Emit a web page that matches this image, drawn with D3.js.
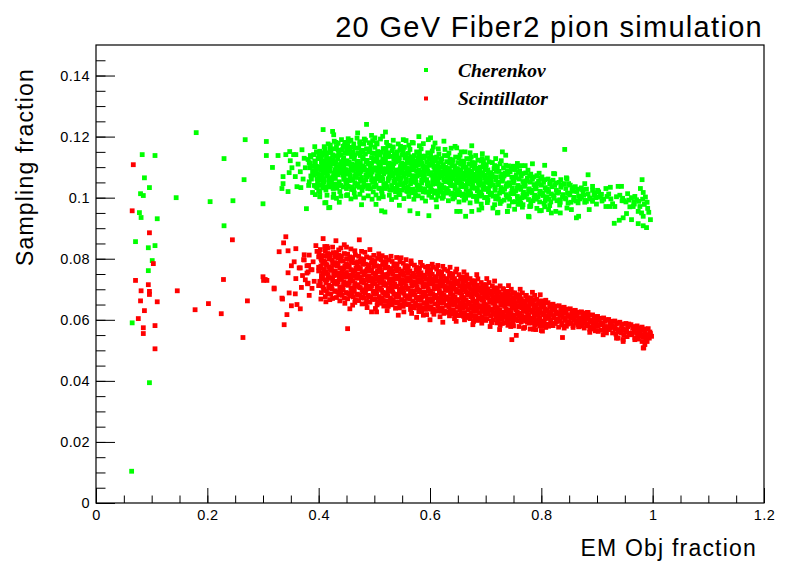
<!DOCTYPE html>
<html>
<head>
<meta charset="utf-8">
<script src="https://cdn.jsdelivr.net/npm/d3@7"></script>
<style>
  body { margin: 0; background: #fff; }
  svg { display: block; }
  .tick text { font-family: "Liberation Sans", Arial, sans-serif; font-size: 14.5px; fill: #000; letter-spacing: 0.4px; }
</style>
</head>
<body>
<div id="chart"></div>
<script>
// Chart text
const chartTitle = "20 GeV Fiber2 pion simulation"
const xTitle = "EM Obj fraction"
const yTitle = "Sampling fraction"
const seriesNames = ["Cherenkov", "Scintillator"]
const seriesColors = ["#00ff00", "#ff0000"]

// Axis ticks
const xTicks = [0, 0.2, 0.4, 0.6, 0.8, 1, 1.2]
const yTicks = [0, 0.02, 0.04, 0.06, 0.08, 0.1, 0.12, 0.14]

// Cherenkov points [EM fraction, sampling fraction]
const cherenkov = [
  [0.064,0.0104],[0.096,0.0394],[0.065,0.0590],[0.071,0.0856],[0.078,0.0951],[0.080,0.1013],[0.081,0.0935],[0.083,0.1141],[0.085,0.1007],[0.087,0.1065],
  [0.094,0.0836],[0.094,0.0761],[0.096,0.1033],[0.101,0.0794],[0.106,0.1138],[0.106,0.0843],[0.110,0.0931],[0.144,0.1000],[0.180,0.1213],[0.205,0.0987],
  [0.230,0.1128],[0.230,0.0908],[0.246,0.0990],[0.266,0.1059],[0.268,0.1190],[0.300,0.0980],[0.306,0.1184],[0.306,0.1138],[0.317,0.1099],
  [0.334,0.1030],[0.336,0.1046],[0.345,0.1020],[0.327,0.1138],[0.341,0.1141],[0.348,0.1151],[0.370,0.1157],[0.378,0.0964],[0.393,0.1167],[0.408,0.1223],
  [0.336,0.1069],[0.347,0.1082],[0.358,0.1069],[0.367,0.1085],[0.361,0.1036],[0.368,0.1033],[0.349,0.1121],[0.355,0.1141],[0.359,0.1141],[0.385,0.1138],
  [0.383,0.1115],[0.376,0.1098],[0.392,0.1040],[0.400,0.1023],[0.394,0.1010],[0.397,0.1033],[0.403,0.1101],[0.408,0.1147],[0.410,0.1167],[0.412,0.1092],
  [0.413,0.0984],[0.418,0.0967],[0.372,0.1061],[0.363,0.1110],[0.352,0.1098],[0.374,0.1129],
  [0.486,0.1240],[0.425,0.1217],[0.427,0.1206],[0.842,0.1158],[0.694,0.1144],[0.736,0.1139],[0.884,0.1075],[0.513,0.0957],[0.519,0.0953],[0.564,0.0957],
  [0.578,0.0948],[0.598,0.0941],[0.664,0.0939],[0.648,0.0955],[0.654,0.0955],[0.675,0.0955],[0.693,0.0966],[0.713,0.0966],[0.722,0.0952],[0.739,0.0955],
  [0.777,0.0939],[0.797,0.0957],[0.411,0.0983],[0.420,0.0968],[0.477,0.0977],[0.450,0.1007],[0.426,0.1001],[0.495,0.1204],[0.501,0.1196],[0.515,0.1201],
  [0.453,0.1193],[0.444,0.1168],[0.552,0.1190],[0.557,0.1187],[0.597,0.1190],[0.601,0.1196],[0.609,0.1179],[0.570,0.1179],[0.645,0.1168],[0.648,0.1163],
  [0.663,0.1150],[0.696,0.1121],[0.749,0.1103],[0.784,0.1111],[0.806,0.1106],[0.824,0.1078],[0.845,0.1065],[0.981,0.1059],
  [0.764,0.1105],[0.822,0.1079],[0.846,0.1062],[0.849,0.1046],[0.835,0.1059],[0.878,0.1046],[0.892,0.1037],[0.901,0.1024],[0.916,0.1030],[0.924,0.1034],
  [0.938,0.1037],[0.944,0.1037],[0.918,0.1004],[0.955,0.1013],[0.978,0.1030],[0.983,0.1017],[0.987,0.1002],[0.968,0.1004],[0.971,0.0993],[0.948,0.0990],
  [0.952,0.0986],[0.959,0.0970],[0.965,0.0971],[0.977,0.0971],[0.974,0.0955],[0.980,0.0950],[0.983,0.0939],[0.996,0.0928],[0.993,0.0952],[0.974,0.0915],
  [0.983,0.0908],[0.989,0.0902],[0.931,0.0916],[0.940,0.0926],[0.947,0.0934],[0.953,0.0948],[0.962,0.0928],[0.916,0.0971],[0.923,0.0971],[0.932,0.0971],
  [0.899,0.0979],[0.902,0.1002],[0.886,0.0961],[0.863,0.0934],[0.867,0.0939],[0.874,0.1026],[0.872,0.1002],[0.866,0.0983],[0.857,0.1021],[0.851,0.1015],
  [0.844,0.0996],[0.846,0.0966],[0.854,0.0961],[0.833,0.0993],[0.834,0.0950],[0.826,0.0955],[0.887,0.0999],[0.892,0.0988],[0.881,0.0988],[0.896,0.1010],
  [0.778,0.0937],[0.800,0.0958],[0.815,0.0974],[0.818,0.0950],[0.739,0.0955],[0.721,0.0950],[0.779,0.0971],[0.767,0.0977],
  [0.381,0.1125],[0.384,0.1098],[0.386,0.1071],[0.383,0.1052],[0.388,0.1104],[0.387,0.1061],
  [0.391,0.1141],[0.394,0.1116],[0.392,0.1089],[0.397,0.1062],[0.395,0.1037],[0.398,0.1078],[0.393,0.1120],
  [0.402,0.1152],[0.405,0.1127],[0.401,0.1101],[0.407,0.1083],[0.404,0.1058],[0.408,0.1032],[0.406,0.1110],[0.403,0.1069],
  [0.411,0.1160],[0.414,0.1133],[0.417,0.1112],[0.412,0.1094],[0.416,0.1071],[0.419,0.1046],[0.413,0.1025],[0.418,0.1087],
  [0.422,0.1148],[0.425,0.1124],[0.421,0.1105],[0.427,0.1081],[0.424,0.1063],[0.428,0.1040],[0.426,0.1117],[0.429,0.1092],[0.423,0.1055],
  [0.432,0.1166],[0.436,0.1139],[0.431,0.1118],[0.438,0.1097],[0.434,0.1075],[0.437,0.1052],[0.433,0.1031],[0.439,0.1108],
  [0.442,0.1157],[0.445,0.1130],[0.448,0.1113],[0.441,0.1090],[0.446,0.1068],[0.449,0.1046],[0.443,0.1101],[0.447,0.1079],[0.444,0.1124],
  [0.452,0.1171],[0.455,0.1145],[0.451,0.1121],[0.458,0.1098],[0.454,0.1084],[0.457,0.1061],[0.453,0.1037],[0.459,0.1109],[0.456,0.1073],
  [0.461,0.1150],[0.464,0.1127],[0.467,0.1106],[0.462,0.1089],[0.468,0.1066],[0.465,0.1049],[0.463,0.1026],[0.469,0.1115],[0.466,0.1094],
  [0.472,0.1162],[0.475,0.1138],[0.471,0.1119],[0.478,0.1095],[0.474,0.1077],[0.477,0.1055],[0.473,0.1034],[0.479,0.1104],[0.476,0.1086],
  [0.481,0.1176],[0.484,0.1143],[0.487,0.1122],[0.482,0.1101],[0.488,0.1080],[0.485,0.1058],[0.483,0.1040],[0.489,0.1112],[0.486,0.1069],
  [0.492,0.1158],[0.495,0.1131],[0.491,0.1110],[0.498,0.1092],[0.494,0.1073],[0.497,0.1051],[0.493,0.1029],[0.499,0.1119],[0.496,0.1084],
  [0.501,0.1165],[0.504,0.1137],[0.507,0.1116],[0.502,0.1098],[0.508,0.1079],[0.505,0.1062],[0.503,0.1041],[0.509,0.1105],[0.506,0.1087],
  [0.512,0.1149],[0.515,0.1126],[0.511,0.1107],[0.518,0.1088],[0.514,0.1067],[0.517,0.1045],[0.513,0.1022],[0.519,0.1114],[0.516,0.1095],
  [0.521,0.1160],[0.524,0.1134],[0.527,0.1113],[0.522,0.1094],[0.528,0.1075],[0.525,0.1056],[0.523,0.1036],[0.529,0.1101],[0.526,0.1083],
  [0.532,0.1154],[0.535,0.1128],[0.531,0.1109],[0.538,0.1090],[0.534,0.1071],[0.537,0.1049],[0.533,0.1030],[0.539,0.1117],[0.536,0.1080],
  [0.541,0.1143],[0.544,0.1121],[0.547,0.1102],[0.542,0.1085],[0.548,0.1066],[0.545,0.1043],[0.543,0.1024],[0.549,0.1111],[0.546,0.1093],
  [0.552,0.1152],[0.555,0.1130],[0.551,0.1108],[0.558,0.1089],[0.554,0.1070],[0.557,0.1052],[0.553,0.1033],[0.559,0.1097],[0.556,0.1079],
  [0.561,0.1145],[0.564,0.1123],[0.567,0.1104],[0.562,0.1086],[0.568,0.1063],[0.565,0.1046],[0.563,0.1027],[0.569,0.1112],[0.566,0.1094],
  [0.572,0.1138],[0.575,0.1119],[0.571,0.1100],[0.578,0.1081],[0.574,0.1060],[0.577,0.1041],[0.573,0.1020],[0.579,0.1107],[0.576,0.1088],
  [0.581,0.1147],[0.584,0.1125],[0.587,0.1103],[0.582,0.1084],[0.588,0.1066],[0.585,0.1048],[0.583,0.1030],[0.589,0.1095],[0.586,0.1074],
  [0.592,0.1136],[0.595,0.1116],[0.591,0.1097],[0.598,0.1078],[0.594,0.1059],[0.597,0.1039],[0.593,0.1018],[0.599,0.1106],[0.596,0.1087],
  [0.601,0.1142],[0.604,0.1121],[0.607,0.1101],[0.602,0.1082],[0.608,0.1063],[0.605,0.1044],[0.603,0.1025],[0.609,0.1090],[0.606,0.1071],
  [0.612,0.1133],[0.615,0.1112],[0.611,0.1093],[0.618,0.1075],[0.614,0.1056],[0.617,0.1037],[0.613,0.1016],[0.619,0.1100],[0.616,0.1084],
  [0.621,0.1128],[0.624,0.1108],[0.627,0.1089],[0.622,0.1071],[0.628,0.1052],[0.625,0.1033],[0.623,0.1014],[0.629,0.1096],[0.626,0.1079],
  [0.632,0.1137],[0.635,0.1115],[0.631,0.1094],[0.638,0.1076],[0.634,0.1058],[0.637,0.1040],[0.633,0.1021],[0.639,0.1085],[0.636,0.1066],
  [0.641,0.1124],[0.644,0.1104],[0.647,0.1086],[0.642,0.1068],[0.648,0.1049],[0.645,0.1030],[0.643,0.1011],[0.649,0.1093],[0.646,0.1077],
  [0.652,0.1131],[0.655,0.1110],[0.651,0.1090],[0.658,0.1072],[0.654,0.1054],[0.657,0.1036],[0.653,0.1017],[0.659,0.1081],[0.656,0.1062],
  [0.661,0.1119],[0.664,0.1100],[0.667,0.1082],[0.662,0.1064],[0.668,0.1045],[0.665,0.1027],[0.663,0.1008],[0.669,0.1089],[0.666,0.1073],
  [0.672,0.1126],[0.675,0.1105],[0.671,0.1086],[0.678,0.1068],[0.674,0.1050],[0.677,0.1031],[0.673,0.1013],[0.679,0.1077],[0.676,0.1058],
  [0.681,0.1114],[0.684,0.1096],[0.687,0.1078],[0.682,0.1060],[0.688,0.1041],[0.685,0.1023],[0.683,0.1004],[0.689,0.1085],[0.686,0.1069],
  [0.692,0.1120],[0.695,0.1101],[0.691,0.1082],[0.698,0.1064],[0.694,0.1046],[0.697,0.1027],[0.693,0.1009],[0.699,0.1073],
  [0.701,0.1108],[0.704,0.1091],[0.707,0.1074],[0.702,0.1056],[0.708,0.1038],[0.705,0.1020],[0.703,0.1001],[0.709,0.1065],
  [0.712,0.1115],[0.715,0.1095],[0.711,0.1077],[0.718,0.1059],[0.714,0.1042],[0.717,0.1024],[0.713,0.1005],[0.719,0.1068],
  [0.721,0.1102],[0.724,0.1086],[0.727,0.1069],[0.722,0.1051],[0.728,0.1033],[0.725,0.1015],[0.723,0.0996],[0.729,0.1060],
  [0.732,0.1097],[0.735,0.1080],[0.731,0.1063],[0.738,0.1046],[0.734,0.1028],[0.737,0.1010],[0.733,0.0992],
  [0.741,0.1104],[0.744,0.1085],[0.747,0.1067],[0.742,0.1049],[0.748,0.1031],[0.745,0.1013],[0.743,0.0995],
  [0.752,0.1092],[0.755,0.1075],[0.751,0.1057],[0.758,0.1040],[0.754,0.1022],[0.757,0.1004],[0.753,0.0987],
  [0.761,0.1088],[0.764,0.1070],[0.767,0.1053],[0.762,0.1036],[0.768,0.1018],[0.765,0.1000],[0.763,0.0983],
  [0.772,0.1081],[0.775,0.1064],[0.771,0.1046],[0.778,0.1029],[0.774,0.1011],[0.777,0.0994],
  [0.781,0.1077],[0.784,0.1060],[0.787,0.1043],[0.782,0.1025],[0.788,0.1008],[0.785,0.0990],
  [0.792,0.1072],[0.795,0.1055],[0.791,0.1038],[0.798,0.1021],[0.794,0.1003],[0.797,0.0986],
  [0.801,0.1068],[0.804,0.1050],[0.807,0.1033],[0.802,0.1016],[0.808,0.0999],[0.805,0.0981],
  [0.812,0.1061],[0.815,0.1045],[0.811,0.1028],[0.818,0.1012],[0.814,0.0995],
  [0.821,0.1057],[0.824,0.1040],[0.827,0.1024],[0.822,0.1007],[0.828,0.0990],
  [0.832,0.1050],[0.835,0.1034],[0.831,0.1018],[0.838,0.1002],[0.834,0.0985],
  [0.841,0.1046],[0.844,0.1030],[0.847,0.1014],[0.842,0.0998],[0.848,0.0982],
  [0.852,0.1041],[0.855,0.1025],[0.851,0.1009],[0.858,0.0993],
  [0.861,0.1036],[0.864,0.1020],[0.867,0.1005],[0.862,0.0989],
  [0.872,0.1032],[0.875,0.1016],[0.871,0.1001],[0.878,0.0985],
  [0.881,0.1028],[0.884,0.1012],[0.887,0.0997],
  [0.892,0.1024],[0.895,0.1008],[0.891,0.0993],
  [0.903,0.1019],[0.906,0.1004],[0.909,0.0989],
  [0.921,0.1012],[0.925,0.0996],[0.928,0.0980],
  [0.941,0.1008],[0.945,0.0990],[0.962,0.1000],[0.966,0.0985],[0.982,0.0995],[0.985,0.0978],[0.991,0.0965],[0.990,0.0985]
]

// Cherenkov points filling the dense band and its edges
const cherenkovFill = [
  [0.385,0.1112],[0.389,0.1085],[0.382,0.1040],[0.386,0.1133],[0.389,0.1017],
  [0.396,0.1150],[0.399,0.1128],[0.395,0.1103],[0.391,0.1074],[0.398,0.1049],[0.396,0.1092],
  [0.406,0.1140],[0.409,0.1119],[0.404,0.1092],[0.400,0.1075],[0.407,0.1046],[0.409,0.1063],[0.402,0.1017],
  [0.416,0.1147],[0.419,0.1122],[0.415,0.1102],[0.410,0.1079],[0.418,0.1058],[0.413,0.1036],[0.411,0.1108],[0.417,0.1176],
  [0.427,0.1160],[0.429,0.1136],[0.424,0.1111],[0.420,0.1087],[0.428,0.1070],[0.422,0.1048],[0.426,0.1030],[0.421,0.1128],
  [0.437,0.1152],[0.434,0.1127],[0.439,0.1085],[0.430,0.1063],[0.436,0.1041],[0.432,0.1102],[0.438,0.1020],[0.431,0.1181],
  [0.447,0.1145],[0.441,0.1118],[0.448,0.1092],[0.443,0.1074],[0.449,0.1057],[0.444,0.1035],[0.440,0.1110],[0.446,0.1170],
  [0.456,0.1158],[0.459,0.1133],[0.453,0.1110],[0.450,0.1090],[0.457,0.1069],[0.451,0.1049],[0.459,0.1027],[0.454,0.1185],
  [0.466,0.1162],[0.460,0.1139],[0.469,0.1117],[0.463,0.1100],[0.467,0.1078],[0.461,0.1057],[0.468,0.1038],[0.464,0.1015],
  [0.476,0.1150],[0.479,0.1128],[0.473,0.1108],[0.470,0.1087],[0.477,0.1066],[0.471,0.1045],[0.478,0.1024],[0.474,0.1177],
  [0.486,0.1160],[0.480,0.1133],[0.489,0.1113],[0.483,0.1091],[0.487,0.1071],[0.481,0.1049],[0.488,0.1030],[0.484,0.1188],
  [0.496,0.1146],[0.499,0.1123],[0.493,0.1101],[0.490,0.1078],[0.497,0.1062],[0.491,0.1040],[0.498,0.1019],[0.494,0.1172],
  [0.506,0.1151],[0.500,0.1127],[0.509,0.1107],[0.503,0.1090],[0.507,0.1070],[0.501,0.1052],[0.508,0.1031],[0.504,0.1180],
  [0.516,0.1161],[0.519,0.1137],[0.513,0.1116],[0.510,0.1098],[0.517,0.1078],[0.511,0.1056],[0.518,0.1034],[0.514,0.1012],
  [0.526,0.1147],[0.520,0.1123],[0.529,0.1104],[0.523,0.1085],[0.527,0.1066],[0.521,0.1046],[0.528,0.1025],[0.524,0.1171],
  [0.536,0.1141],[0.539,0.1118],[0.533,0.1100],[0.530,0.1081],[0.537,0.1061],[0.531,0.1040],[0.538,0.1019],[0.534,0.1166],
  [0.546,0.1155],[0.540,0.1132],[0.549,0.1113],[0.543,0.1075],[0.547,0.1056],[0.541,0.1034],[0.548,0.1097],[0.544,0.1013],
  [0.556,0.1141],[0.559,0.1119],[0.553,0.1098],[0.550,0.1080],[0.557,0.1061],[0.551,0.1043],[0.558,0.1022],[0.554,0.1165],
  [0.566,0.1134],[0.560,0.1113],[0.569,0.1095],[0.563,0.1075],[0.567,0.1055],[0.561,0.1036],[0.568,0.1016],[0.564,0.1158],
  [0.576,0.1150],[0.579,0.1128],[0.573,0.1110],[0.570,0.1091],[0.577,0.1071],[0.571,0.1051],[0.578,0.1031],[0.574,0.1009],
  [0.586,0.1136],[0.580,0.1114],[0.589,0.1093],[0.583,0.1075],[0.587,0.1057],[0.581,0.1039],[0.588,0.1019],[0.584,0.1160],
  [0.596,0.1147],[0.599,0.1126],[0.593,0.1087],[0.590,0.1068],[0.597,0.1049],[0.591,0.1029],[0.598,0.1008],[0.594,0.1116],
  [0.606,0.1131],[0.600,0.1111],[0.609,0.1092],[0.603,0.1073],[0.607,0.1053],[0.601,0.1035],[0.608,0.1015],[0.604,0.1153],
  [0.616,0.1143],[0.619,0.1122],[0.613,0.1103],[0.610,0.1084],[0.617,0.1065],[0.611,0.1046],[0.618,0.1026],[0.614,0.1005],
  [0.626,0.1138],[0.620,0.1118],[0.629,0.1099],[0.623,0.1080],[0.627,0.1061],[0.621,0.1042],[0.628,0.1023],[0.624,0.1003],
  [0.636,0.1126],[0.639,0.1105],[0.633,0.1085],[0.630,0.1067],[0.637,0.1049],[0.631,0.1030],[0.638,0.1011],[0.634,0.1146],
  [0.646,0.1133],[0.640,0.1114],[0.649,0.1095],[0.643,0.1077],[0.647,0.1058],[0.641,0.1039],[0.648,0.1021],[0.644,0.1001],
  [0.656,0.1120],[0.659,0.1100],[0.653,0.1081],[0.650,0.1063],[0.657,0.1045],[0.651,0.1026],[0.658,0.1007],[0.654,0.1139],
  [0.666,0.1128],[0.660,0.1109],[0.669,0.1091],[0.663,0.1073],[0.667,0.1054],[0.661,0.1036],[0.668,0.1017],[0.664,0.0998],
  [0.676,0.1115],[0.679,0.1096],[0.673,0.1077],[0.670,0.1059],[0.677,0.1040],[0.671,0.1022],[0.678,0.1004],[0.674,0.1133],
  [0.686,0.1123],[0.680,0.1105],[0.689,0.1087],[0.683,0.1069],[0.687,0.1050],[0.681,0.1032],[0.688,0.1013],[0.684,0.0995],
  [0.696,0.1110],[0.699,0.1091],[0.693,0.1073],[0.690,0.1055],[0.697,0.1036],[0.691,0.1018],[0.698,0.1000],[0.694,0.1128],
  [0.706,0.1117],[0.700,0.1099],[0.709,0.1082],[0.703,0.1064],[0.707,0.1047],[0.701,0.1029],[0.708,0.1010],[0.704,0.0992],
  [0.716,0.1105],[0.719,0.1086],[0.713,0.1068],[0.710,0.1050],[0.717,0.1033],[0.711,0.1015],[0.718,0.0996],
  [0.726,0.1111],[0.720,0.1094],[0.729,0.1077],[0.723,0.1042],[0.727,0.1024],[0.721,0.1006],[0.728,0.0988],
  [0.736,0.1106],[0.739,0.1088],[0.733,0.1071],[0.730,0.1054],[0.737,0.1037],[0.731,0.1019],[0.738,0.1001],
  [0.746,0.1095],[0.740,0.1076],[0.749,0.1058],[0.743,0.1040],[0.747,0.1022],[0.741,0.1004],[0.748,0.0986],
  [0.756,0.1100],[0.759,0.1083],[0.753,0.1066],[0.750,0.1048],[0.757,0.1031],[0.751,0.1013],[0.758,0.0995],
  [0.766,0.1079],[0.760,0.1061],[0.769,0.1044],[0.763,0.1027],[0.767,0.1009],[0.761,0.0991],
  [0.776,0.1090],[0.779,0.1072],[0.773,0.1055],[0.770,0.1037],[0.777,0.1020],[0.771,0.1002],
  [0.786,0.1068],[0.780,0.1051],[0.789,0.1034],[0.783,0.1016],[0.787,0.0999],[0.781,0.0981],
  [0.796,0.1080],[0.799,0.1063],[0.793,0.1046],[0.790,0.1029],[0.797,0.1012],[0.791,0.0995],
  [0.806,0.1059],[0.800,0.1041],[0.809,0.1024],[0.803,0.1007],[0.807,0.0990],
  [0.816,0.1053],[0.819,0.1036],[0.813,0.1020],[0.810,0.1003],[0.817,0.0986],
  [0.826,0.1048],[0.829,0.1015],[0.823,0.0998],[0.836,0.1042],[0.839,0.1010],[0.833,0.0976],[0.856,0.1033],[0.859,0.1001],[0.853,0.0985],
  [0.866,0.1028],[0.869,0.0996],[0.876,0.1008],[0.879,0.0991],[0.895,0.1016],[0.898,0.1000],[0.908,0.1011],[0.912,0.0995],
  [0.935,0.1003],[0.946,0.0998],[0.957,0.0992],[0.967,0.0979],[0.975,0.0988],
  [0.421,0.1172],[0.428,0.1185],[0.435,0.1178],[0.441,0.1190],[0.447,0.1181],[0.458,0.1188],[0.463,0.1176],[0.469,0.1195],[0.474,0.1183],[0.482,0.1192],
  [0.491,0.1180],[0.497,0.1187],[0.505,0.1176],[0.511,0.1192],[0.522,0.1181],[0.528,0.1170],[0.534,0.1188],[0.543,0.1176],[0.547,0.1168],[0.562,0.1172],
  [0.568,0.1181],[0.581,0.1170],[0.588,0.1177],[0.606,0.1166],[0.615,0.1160],[0.627,0.1158],[0.638,0.1162],[0.656,0.1150],[0.672,0.1147],[0.682,0.1138],
  [0.703,0.1130],[0.718,0.1128],[0.728,0.1121],[0.757,0.1112],[0.771,0.1105],
  [0.402,0.1003],[0.415,0.1008],[0.427,0.1012],[0.432,0.0998],[0.440,0.1005],[0.452,0.1010],[0.458,0.0996],[0.466,0.1002],[0.474,0.1011],[0.481,0.0999],
  [0.489,0.1006],[0.496,0.0995],[0.503,0.1009],[0.508,0.0998],[0.516,0.1003],[0.527,0.1008],[0.531,0.0994],[0.539,0.1001],[0.546,0.1010],[0.553,0.0997],
  [0.562,0.1004],[0.571,0.0995],[0.579,0.1006],[0.586,0.0999],[0.592,0.0989],[0.603,0.1001],[0.611,0.0993],[0.622,0.0998],[0.633,0.0990],[0.641,0.0996],
  [0.652,0.0986],[0.661,0.0992],[0.672,0.0983],[0.684,0.0988],[0.692,0.0979],[0.703,0.0984],[0.716,0.0977],[0.726,0.0981],[0.742,0.0973],[0.758,0.0978],
  [0.766,0.0969],[0.781,0.0972],[0.792,0.0965],[0.806,0.0970],[0.813,0.0961],
  [0.437,0.0985],[0.503,0.0978],[0.545,0.0975],[0.612,0.0970],[0.688,0.0960],[0.752,0.0962],[0.470,0.1212],[0.520,0.1215],[0.580,0.1200],[0.625,0.1185],
  [0.675,0.1170],[0.730,0.1150]
]

// Cherenkov points in the most crowded part of the band
const cherenkovCore = [
  [0.400,0.1040],[0.405,0.1072],[0.400,0.1096],[0.405,0.1118],[0.400,0.1138],[0.410,0.1052],[0.415,0.1083],[0.410,0.1100],[0.415,0.1125],[0.410,0.1145],
  [0.420,0.1035],[0.425,0.1068],[0.420,0.1097],[0.425,0.1140],[0.420,0.1160],[0.430,0.1045],[0.435,0.1088],[0.430,0.1110],[0.435,0.1155],[0.430,0.1137],
  [0.440,0.1040],[0.445,0.1060],[0.440,0.1082],[0.445,0.1101],[0.440,0.1140],[0.450,0.1030],[0.455,0.1056],[0.450,0.1078],[0.455,0.1116],[0.450,0.1160],
  [0.460,0.1035],[0.465,0.1072],[0.460,0.1110],[0.465,0.1140],[0.460,0.1165],[0.470,0.1040],[0.475,0.1060],[0.470,0.1097],[0.475,0.1113],[0.470,0.1145],
  [0.480,0.1035],[0.485,0.1075],[0.480,0.1095],[0.485,0.1118],[0.480,0.1155],[0.490,0.1034],[0.495,0.1058],[0.490,0.1090],[0.495,0.1112],[0.490,0.1150],
  [0.500,0.1036],[0.505,0.1072],[0.500,0.1095],[0.505,0.1125],[0.500,0.1145],[0.510,0.1030],[0.515,0.1060],[0.510,0.1085],[0.515,0.1118],[0.510,0.1140],
  [0.520,0.1030],[0.525,0.1062],[0.520,0.1090],[0.525,0.1108],[0.520,0.1150],[0.530,0.1025],[0.535,0.1055],[0.530,0.1095],[0.535,0.1112],[0.530,0.1135],
  [0.540,0.1030],[0.545,0.1060],[0.540,0.1090],[0.545,0.1130],[0.540,0.1150],[0.550,0.1025],[0.555,0.1048],[0.550,0.1092],[0.555,0.1110],[0.550,0.1140],
  [0.560,0.1020],[0.565,0.1058],[0.560,0.1082],[0.565,0.1115],[0.560,0.1130],[0.570,0.1028],[0.575,0.1050],[0.570,0.1072],[0.575,0.1105],[0.570,0.1125],
  [0.580,0.1025],[0.585,0.1058],[0.580,0.1090],[0.585,0.1112],[0.580,0.1140],[0.590,0.1020],[0.595,0.1045],[0.590,0.1080],[0.595,0.1100],[0.590,0.1130],
  [0.600,0.1020],[0.605,0.1058],[0.600,0.1078],[0.605,0.1108],[0.600,0.1130],[0.610,0.1022],[0.615,0.1045],[0.610,0.1070],[0.615,0.1095],[0.610,0.1120],
  [0.620,0.1020],[0.625,0.1058],[0.620,0.1085],[0.625,0.1100],[0.620,0.1125],[0.630,0.1015],[0.635,0.1050],[0.630,0.1075],[0.635,0.1095],[0.630,0.1118],
  [0.640,0.1015],[0.645,0.1042],[0.640,0.1062],[0.645,0.1098],[0.640,0.1120],[0.650,0.1010],[0.655,0.1040],[0.650,0.1070],[0.655,0.1090],[0.650,0.1115],
  [0.660,0.1012],[0.665,0.1040],[0.660,0.1060],[0.665,0.1095],[0.660,0.1110],[0.670,0.1008],[0.675,0.1035],[0.670,0.1066],[0.675,0.1085],[0.670,0.1110],
  [0.680,0.1005],[0.685,0.1030],[0.680,0.1055],[0.685,0.1090],[0.680,0.1100],[0.690,0.1005],[0.695,0.1030],[0.690,0.1060],[0.695,0.1080],[0.690,0.1100],
  [0.700,0.1000],[0.705,0.1030],[0.700,0.1050],[0.705,0.1080],[0.700,0.1095]
]

// Scintillator points [EM fraction, sampling fraction]
const scintillator = [
  [0.067,0.1108],[0.065,0.0957],[0.096,0.0885],[0.245,0.0862],[0.103,0.0784],[0.229,0.0732],[0.071,0.0729],[0.094,0.0715],[0.081,0.0695],[0.096,0.0693],
  [0.096,0.0683],[0.146,0.0695],[0.080,0.0662],[0.110,0.0659],[0.087,0.0630],[0.076,0.0604],[0.085,0.0574],[0.085,0.0555],[0.106,0.0581],[0.106,0.0505],
  [0.202,0.0653],[0.178,0.0633],[0.225,0.0620],[0.264,0.0542],[0.272,0.0662],[0.300,0.0741],[0.304,0.0732],[0.307,0.0729],[0.301,0.0729],[0.320,0.0701],
  [0.335,0.0668],
  [0.341,0.0872],[0.337,0.0852],[0.329,0.0823],[0.345,0.0826],[0.359,0.0833],[0.356,0.0790],[0.351,0.0777],[0.345,0.0754],[0.359,0.0735],[0.347,0.0688],
  [0.358,0.0685],[0.351,0.0646],[0.361,0.0650],[0.367,0.0636],[0.343,0.0617],[0.338,0.0584],[0.367,0.0770],[0.374,0.0796],[0.383,0.0812],[0.379,0.0777],
  [0.386,0.0764],[0.381,0.0757],[0.392,0.0726],[0.381,0.0720],[0.388,0.0703],[0.383,0.0680],[0.404,0.0668],[0.413,0.0659],[0.408,0.0866],[0.395,0.0843],
  [0.403,0.0830],[0.415,0.0840],[0.320,0.0704],[0.334,0.0671],[0.380,0.0718],[0.373,0.0797],[0.365,0.0770],[0.374,0.0813],[0.382,0.0778],[0.388,0.0764],
  [0.379,0.0753],[0.397,0.0824],[0.411,0.0840],[0.416,0.0835],[0.431,0.0859],[0.420,0.0666],[0.371,0.0745],[0.376,0.0731],[0.369,0.0706],[0.390,0.0790],
  [0.440,0.0835],[0.450,0.0838],[0.473,0.0862],[0.477,0.0824],[0.499,0.0811],[0.521,0.0804],[0.540,0.0804],[0.597,0.0775],[0.623,0.0775],[0.666,0.0739],
  [0.731,0.0702],[0.749,0.0688],[0.788,0.0680],[0.773,0.0680],[0.808,0.0664],[0.456,0.0636],[0.495,0.0626],[0.504,0.0626],[0.543,0.0615],[0.576,0.0608],
  [0.594,0.0617],[0.452,0.0571],[0.600,0.0600],[0.623,0.0592],[0.647,0.0595],[0.677,0.0584],[0.708,0.0578],[0.725,0.0568],[0.755,0.0549],[0.747,0.0535],
  [0.838,0.0542],[0.911,0.0551],[0.935,0.0540],[0.947,0.0529],[0.983,0.0508],[0.998,0.0546],[0.957,0.0584],[0.884,0.0624],
  [0.820,0.0644],[0.836,0.0628],[0.872,0.0624],[0.882,0.0624],[0.858,0.0617],[0.863,0.0611],[0.869,0.0600],[0.875,0.0592],[0.866,0.0584],[0.890,0.0595],
  [0.899,0.0590],[0.893,0.0573],[0.902,0.0562],[0.887,0.0559],[0.914,0.0570],[0.920,0.0578],[0.926,0.0590],[0.917,0.0557],[0.932,0.0573],[0.938,0.0568],
  [0.944,0.0557],[0.938,0.0540],[0.947,0.0535],[0.957,0.0586],[0.953,0.0562],[0.962,0.0551],[0.968,0.0535],[0.971,0.0573],[0.980,0.0568],[0.986,0.0568],
  [0.983,0.0551],[0.989,0.0540],[0.981,0.0529],[0.986,0.0519],[0.984,0.0508],[0.974,0.0546],[0.977,0.0557],
  [0.401,0.0818],[0.404,0.0801],[0.407,0.0785],[0.402,0.0768],[0.408,0.0752],[0.405,0.0735],[0.403,0.0716],[0.409,0.0698],
  [0.412,0.0826],[0.415,0.0808],[0.411,0.0790],[0.418,0.0773],[0.414,0.0757],[0.417,0.0740],[0.413,0.0722],[0.419,0.0704],[0.416,0.0685],
  [0.421,0.0812],[0.424,0.0796],[0.427,0.0779],[0.422,0.0762],[0.428,0.0745],[0.425,0.0728],[0.423,0.0710],[0.429,0.0693],
  [0.432,0.0820],[0.435,0.0803],[0.431,0.0786],[0.438,0.0769],[0.434,0.0752],[0.437,0.0735],[0.433,0.0717],[0.439,0.0700],[0.436,0.0682],
  [0.441,0.0809],[0.444,0.0792],[0.447,0.0775],[0.442,0.0758],[0.448,0.0741],[0.445,0.0724],[0.443,0.0707],[0.449,0.0689],[0.446,0.0671],
  [0.452,0.0815],[0.455,0.0798],[0.451,0.0781],[0.458,0.0764],[0.454,0.0747],[0.457,0.0730],[0.453,0.0713],[0.459,0.0695],[0.456,0.0678],
  [0.461,0.0804],[0.464,0.0787],[0.467,0.0770],[0.462,0.0753],[0.468,0.0736],[0.465,0.0719],[0.463,0.0702],[0.469,0.0684],[0.466,0.0666],
  [0.472,0.0808],[0.475,0.0791],[0.471,0.0774],[0.478,0.0757],[0.474,0.0741],[0.477,0.0724],[0.473,0.0707],[0.479,0.0690],[0.476,0.0672],
  [0.481,0.0798],[0.484,0.0782],[0.487,0.0765],[0.482,0.0748],[0.488,0.0731],[0.485,0.0714],[0.483,0.0697],[0.489,0.0680],[0.486,0.0662],
  [0.492,0.0803],[0.495,0.0786],[0.491,0.0769],[0.498,0.0752],[0.494,0.0736],[0.497,0.0719],[0.493,0.0702],[0.499,0.0685],[0.496,0.0667],
  [0.501,0.0793],[0.504,0.0777],[0.507,0.0760],[0.502,0.0744],[0.508,0.0727],[0.505,0.0710],[0.503,0.0693],[0.509,0.0676],[0.506,0.0658],
  [0.512,0.0797],[0.515,0.0781],[0.511,0.0764],[0.518,0.0748],[0.514,0.0731],[0.517,0.0714],[0.513,0.0697],[0.519,0.0680],[0.516,0.0663],
  [0.521,0.0788],[0.524,0.0772],[0.527,0.0756],[0.522,0.0739],[0.528,0.0722],[0.525,0.0705],[0.523,0.0688],[0.529,0.0671],[0.526,0.0653],
  [0.532,0.0791],[0.535,0.0775],[0.531,0.0759],[0.538,0.0743],[0.534,0.0726],[0.537,0.0709],[0.533,0.0692],[0.539,0.0675],[0.536,0.0658],
  [0.541,0.0782],[0.544,0.0766],[0.547,0.0750],[0.542,0.0734],[0.548,0.0717],[0.545,0.0700],[0.543,0.0683],[0.549,0.0666],[0.546,0.0648],
  [0.552,0.0785],[0.555,0.0769],[0.551,0.0753],[0.558,0.0737],[0.554,0.0721],[0.557,0.0704],[0.553,0.0687],[0.559,0.0670],[0.556,0.0652],
  [0.561,0.0776],[0.564,0.0760],[0.567,0.0744],[0.562,0.0728],[0.568,0.0712],[0.565,0.0695],[0.563,0.0678],[0.569,0.0661],[0.566,0.0643],
  [0.572,0.0779],[0.575,0.0763],[0.571,0.0747],[0.578,0.0731],[0.574,0.0715],[0.577,0.0699],[0.573,0.0682],[0.579,0.0665],[0.576,0.0647],
  [0.581,0.0770],[0.584,0.0754],[0.587,0.0739],[0.582,0.0723],[0.588,0.0707],[0.585,0.0690],[0.583,0.0673],[0.589,0.0656],[0.586,0.0638],
  [0.592,0.0773],[0.595,0.0757],[0.591,0.0741],[0.598,0.0726],[0.594,0.0710],[0.597,0.0694],[0.593,0.0677],[0.599,0.0660],[0.596,0.0642],
  [0.601,0.0764],[0.604,0.0749],[0.607,0.0733],[0.602,0.0718],[0.608,0.0702],[0.605,0.0686],[0.603,0.0669],[0.609,0.0652],[0.606,0.0634],
  [0.612,0.0766],[0.615,0.0751],[0.611,0.0735],[0.618,0.0720],[0.614,0.0704],[0.617,0.0688],[0.613,0.0672],[0.619,0.0655],[0.616,0.0637],
  [0.621,0.0757],[0.624,0.0742],[0.627,0.0727],[0.622,0.0712],[0.628,0.0696],[0.625,0.0680],[0.623,0.0664],[0.629,0.0647],[0.626,0.0629],
  [0.632,0.0760],[0.635,0.0745],[0.631,0.0730],[0.638,0.0714],[0.634,0.0699],[0.637,0.0683],[0.633,0.0667],[0.639,0.0650],[0.636,0.0632],
  [0.641,0.0750],[0.644,0.0735],[0.647,0.0720],[0.642,0.0705],[0.648,0.0690],[0.645,0.0674],[0.643,0.0658],[0.649,0.0641],[0.646,0.0624],
  [0.652,0.0748],[0.655,0.0733],[0.651,0.0718],[0.658,0.0703],[0.654,0.0688],[0.657,0.0672],[0.653,0.0656],[0.659,0.0640],[0.656,0.0622],
  [0.661,0.0740],[0.664,0.0726],[0.667,0.0711],[0.662,0.0696],[0.668,0.0681],[0.665,0.0665],[0.663,0.0649],[0.669,0.0633],[0.666,0.0616],
  [0.672,0.0735],[0.675,0.0721],[0.671,0.0706],[0.678,0.0691],[0.674,0.0676],[0.677,0.0661],[0.673,0.0645],[0.679,0.0629],[0.676,0.0612],
  [0.681,0.0727],[0.684,0.0713],[0.687,0.0699],[0.682,0.0684],[0.688,0.0669],[0.685,0.0654],[0.683,0.0638],[0.689,0.0622],[0.686,0.0606],
  [0.692,0.0722],[0.695,0.0708],[0.691,0.0694],[0.698,0.0679],[0.694,0.0664],[0.697,0.0649],[0.693,0.0634],[0.699,0.0618],[0.696,0.0602],
  [0.701,0.0715],[0.704,0.0701],[0.707,0.0687],[0.702,0.0673],[0.708,0.0658],[0.705,0.0643],[0.703,0.0628],[0.709,0.0612],
  [0.712,0.0711],[0.715,0.0697],[0.711,0.0683],[0.718,0.0669],[0.714,0.0654],[0.717,0.0639],[0.713,0.0624],[0.719,0.0608],
  [0.721,0.0704],[0.724,0.0690],[0.727,0.0676],[0.722,0.0662],[0.728,0.0648],[0.725,0.0633],[0.723,0.0618],[0.729,0.0603],
  [0.732,0.0700],[0.735,0.0686],[0.731,0.0672],[0.738,0.0658],[0.734,0.0644],[0.737,0.0629],[0.733,0.0614],[0.739,0.0599],
  [0.741,0.0693],[0.744,0.0680],[0.747,0.0666],[0.742,0.0652],[0.748,0.0638],[0.745,0.0624],[0.743,0.0609],[0.749,0.0594],
  [0.752,0.0688],[0.755,0.0675],[0.751,0.0661],[0.758,0.0647],[0.754,0.0633],[0.757,0.0619],[0.753,0.0604],
  [0.761,0.0682],[0.764,0.0669],[0.767,0.0656],[0.762,0.0642],[0.768,0.0628],[0.765,0.0614],[0.763,0.0600],
  [0.772,0.0678],[0.775,0.0665],[0.771,0.0652],[0.778,0.0638],[0.774,0.0624],[0.777,0.0610],[0.773,0.0596],
  [0.781,0.0672],[0.784,0.0659],[0.787,0.0646],[0.782,0.0632],[0.788,0.0619],[0.785,0.0605],[0.783,0.0591],
  [0.792,0.0667],[0.795,0.0654],[0.791,0.0641],[0.798,0.0628],[0.794,0.0614],[0.797,0.0600],[0.793,0.0587],
  [0.801,0.0662],[0.804,0.0649],[0.807,0.0636],[0.802,0.0623],[0.808,0.0610],[0.805,0.0596],[0.803,0.0582],
  [0.812,0.0656],[0.815,0.0644],[0.811,0.0631],[0.818,0.0618],[0.814,0.0605],[0.817,0.0592],[0.813,0.0579],
  [0.821,0.0651],[0.824,0.0639],[0.827,0.0626],[0.822,0.0614],[0.828,0.0601],[0.825,0.0588],
  [0.832,0.0646],[0.835,0.0634],[0.831,0.0622],[0.838,0.0609],[0.834,0.0596],[0.837,0.0583],
  [0.841,0.0641],[0.844,0.0629],[0.847,0.0617],[0.842,0.0605],[0.848,0.0592],[0.845,0.0579],
  [0.852,0.0636],[0.855,0.0624],[0.851,0.0612],[0.858,0.0600],[0.854,0.0588],[0.857,0.0575],
  [0.861,0.0631],[0.864,0.0619],[0.867,0.0607],[0.862,0.0595],[0.868,0.0583],
  [0.872,0.0626],[0.875,0.0614],[0.871,0.0603],[0.878,0.0591],[0.874,0.0579],
  [0.881,0.0621],[0.884,0.0610],[0.887,0.0598],[0.882,0.0587],[0.888,0.0575],
  [0.892,0.0616],[0.895,0.0605],[0.891,0.0594],[0.898,0.0582],[0.894,0.0570],
  [0.901,0.0611],[0.904,0.0600],[0.907,0.0589],[0.902,0.0578],[0.908,0.0566],
  [0.912,0.0606],[0.915,0.0595],[0.911,0.0584],[0.918,0.0573],[0.914,0.0562],
  [0.921,0.0601],[0.924,0.0590],[0.927,0.0579],[0.922,0.0568],[0.928,0.0557],
  [0.932,0.0596],[0.935,0.0586],[0.931,0.0575],[0.938,0.0564],[0.934,0.0553],
  [0.941,0.0592],[0.944,0.0581],[0.947,0.0570],[0.942,0.0560],[0.948,0.0549],
  [0.952,0.0588],[0.955,0.0577],[0.951,0.0566],[0.958,0.0556],[0.954,0.0545],
  [0.961,0.0584],[0.964,0.0573],[0.967,0.0562],[0.962,0.0552],[0.968,0.0541],
  [0.972,0.0580],[0.975,0.0569],[0.971,0.0558],[0.978,0.0548],[0.974,0.0537],
  [0.981,0.0576],[0.984,0.0565],[0.987,0.0554],[0.982,0.0544],[0.988,0.0533],
  [0.992,0.0571],[0.995,0.0560],[0.991,0.0550],[0.994,0.0540],[0.990,0.0529]
]

// Scintillator points filling the dense band and its edges
const scintillatorFill = [
  [0.406,0.0810],[0.409,0.0793],[0.404,0.0776],[0.400,0.0760],[0.407,0.0743],[0.402,0.0726],[0.408,0.0707],[0.405,0.0689],
  [0.416,0.0817],[0.419,0.0799],[0.413,0.0781],[0.410,0.0765],[0.417,0.0748],[0.411,0.0731],[0.418,0.0713],[0.414,0.0695],[0.412,0.0676],
  [0.426,0.0820],[0.420,0.0804],[0.429,0.0787],[0.423,0.0770],[0.427,0.0753],[0.421,0.0736],[0.428,0.0719],[0.424,0.0701],[0.422,0.0684],
  [0.436,0.0811],[0.439,0.0794],[0.433,0.0777],[0.430,0.0760],[0.437,0.0743],[0.431,0.0726],[0.438,0.0708],[0.434,0.0691],[0.432,0.0673],
  [0.446,0.0817],[0.440,0.0800],[0.449,0.0783],[0.443,0.0766],[0.447,0.0749],[0.441,0.0732],[0.448,0.0715],[0.444,0.0698],[0.442,0.0680],
  [0.456,0.0806],[0.459,0.0789],[0.453,0.0772],[0.450,0.0755],[0.457,0.0738],[0.451,0.0721],[0.458,0.0704],[0.454,0.0686],[0.452,0.0669],
  [0.466,0.0812],[0.460,0.0795],[0.469,0.0778],[0.463,0.0761],[0.467,0.0744],[0.461,0.0727],[0.468,0.0710],[0.464,0.0693],[0.462,0.0675],[0.465,0.0657],
  [0.476,0.0800],[0.479,0.0783],[0.473,0.0766],[0.470,0.0749],[0.477,0.0732],[0.471,0.0715],[0.478,0.0698],[0.474,0.0681],[0.472,0.0663],
  [0.486,0.0806],[0.480,0.0790],[0.489,0.0773],[0.483,0.0756],[0.487,0.0739],[0.481,0.0722],[0.488,0.0705],[0.484,0.0688],[0.482,0.0671],[0.485,0.0653],
  [0.496,0.0795],[0.499,0.0778],[0.493,0.0761],[0.490,0.0744],[0.497,0.0727],[0.491,0.0710],[0.498,0.0693],[0.494,0.0676],[0.492,0.0658],
  [0.506,0.0801],[0.500,0.0785],[0.509,0.0768],[0.503,0.0752],[0.507,0.0735],[0.501,0.0718],[0.508,0.0701],[0.504,0.0684],[0.502,0.0667],[0.505,0.0649],
  [0.516,0.0789],[0.519,0.0772],[0.513,0.0756],[0.510,0.0739],[0.517,0.0722],[0.511,0.0705],[0.518,0.0688],[0.514,0.0671],[0.512,0.0654],
  [0.526,0.0796],[0.520,0.0780],[0.529,0.0764],[0.523,0.0747],[0.527,0.0730],[0.521,0.0713],[0.528,0.0696],[0.524,0.0679],[0.522,0.0662],[0.525,0.0644],
  [0.536,0.0783],[0.539,0.0767],[0.533,0.0751],[0.530,0.0734],[0.537,0.0717],[0.531,0.0700],[0.538,0.0683],[0.534,0.0666],[0.532,0.0649],
  [0.546,0.0790],[0.540,0.0774],[0.549,0.0758],[0.543,0.0742],[0.547,0.0725],[0.541,0.0708],[0.548,0.0691],[0.544,0.0674],[0.542,0.0657],[0.545,0.0639],
  [0.556,0.0777],[0.559,0.0761],[0.553,0.0745],[0.550,0.0729],[0.557,0.0712],[0.551,0.0695],[0.558,0.0678],[0.554,0.0661],[0.552,0.0644],
  [0.566,0.0784],[0.560,0.0768],[0.569,0.0752],[0.563,0.0736],[0.567,0.0720],[0.561,0.0703],[0.568,0.0686],[0.564,0.0669],[0.562,0.0652],[0.565,0.0634],
  [0.576,0.0771],[0.579,0.0755],[0.573,0.0739],[0.570,0.0723],[0.577,0.0707],[0.571,0.0690],[0.578,0.0673],[0.574,0.0656],[0.572,0.0639],
  [0.586,0.0778],[0.580,0.0762],[0.589,0.0746],[0.583,0.0731],[0.587,0.0715],[0.581,0.0698],[0.588,0.0681],[0.584,0.0664],[0.582,0.0647],[0.585,0.0630],
  [0.596,0.0765],[0.599,0.0749],[0.593,0.0733],[0.590,0.0718],[0.597,0.0702],[0.591,0.0685],[0.598,0.0668],[0.594,0.0651],[0.592,0.0634],
  [0.606,0.0772],[0.600,0.0756],[0.609,0.0741],[0.603,0.0725],[0.607,0.0710],[0.601,0.0694],[0.608,0.0677],[0.604,0.0660],[0.602,0.0643],[0.605,0.0626],
  [0.616,0.0758],[0.619,0.0743],[0.613,0.0727],[0.610,0.0712],[0.617,0.0696],[0.611,0.0680],[0.618,0.0663],[0.614,0.0646],[0.612,0.0629],
  [0.626,0.0765],[0.620,0.0750],[0.629,0.0735],[0.623,0.0719],[0.627,0.0704],[0.621,0.0688],[0.628,0.0672],[0.624,0.0655],[0.622,0.0638],[0.625,0.0621],
  [0.636,0.0752],[0.639,0.0737],[0.633,0.0722],[0.630,0.0706],[0.637,0.0691],[0.631,0.0675],[0.638,0.0659],[0.634,0.0642],[0.632,0.0625],
  [0.646,0.0757],[0.640,0.0742],[0.649,0.0727],[0.643,0.0712],[0.647,0.0697],[0.641,0.0682],[0.648,0.0666],[0.644,0.0650],[0.642,0.0633],[0.645,0.0616],
  [0.656,0.0740],[0.659,0.0725],[0.653,0.0710],[0.650,0.0695],[0.657,0.0680],[0.651,0.0664],[0.658,0.0648],[0.654,0.0631],[0.652,0.0614],
  [0.666,0.0747],[0.660,0.0733],[0.669,0.0718],[0.663,0.0703],[0.667,0.0688],[0.661,0.0673],[0.668,0.0657],[0.664,0.0641],[0.662,0.0624],[0.665,0.0608],
  [0.676,0.0728],[0.679,0.0714],[0.673,0.0699],[0.670,0.0684],[0.677,0.0669],[0.671,0.0653],[0.678,0.0637],[0.674,0.0621],[0.672,0.0604],
  [0.686,0.0734],[0.680,0.0720],[0.689,0.0706],[0.683,0.0691],[0.687,0.0676],[0.681,0.0661],[0.688,0.0646],[0.684,0.0630],[0.682,0.0614],[0.685,0.0598],
  [0.696,0.0715],[0.699,0.0701],[0.693,0.0687],[0.690,0.0672],[0.697,0.0657],[0.691,0.0642],[0.698,0.0626],[0.694,0.0610],
  [0.706,0.0722],[0.700,0.0708],[0.709,0.0694],[0.703,0.0680],[0.707,0.0665],[0.701,0.0650],[0.708,0.0635],[0.704,0.0620],[0.702,0.0604],
  [0.716,0.0704],[0.719,0.0690],[0.713,0.0676],[0.710,0.0662],[0.717,0.0647],[0.711,0.0632],[0.718,0.0616],[0.714,0.0600],
  [0.726,0.0711],[0.720,0.0697],[0.729,0.0683],[0.723,0.0669],[0.727,0.0655],[0.721,0.0640],[0.728,0.0625],[0.724,0.0610],[0.722,0.0595],
  [0.736,0.0693],[0.739,0.0679],[0.733,0.0665],[0.730,0.0651],[0.737,0.0636],[0.731,0.0621],[0.738,0.0606],[0.734,0.0591],
  [0.746,0.0700],[0.740,0.0686],[0.749,0.0673],[0.743,0.0659],[0.747,0.0645],[0.741,0.0631],[0.748,0.0616],[0.744,0.0601],[0.742,0.0587],
  [0.756,0.0682],[0.759,0.0668],[0.753,0.0654],[0.750,0.0640],[0.757,0.0626],[0.751,0.0611],[0.758,0.0597],
  [0.766,0.0688],[0.760,0.0675],[0.769,0.0662],[0.763,0.0649],[0.767,0.0635],[0.761,0.0621],[0.768,0.0607],[0.764,0.0593],
  [0.776,0.0671],[0.779,0.0658],[0.773,0.0645],[0.770,0.0631],[0.777,0.0617],[0.771,0.0603],[0.778,0.0589],
  [0.786,0.0665],[0.780,0.0652],[0.789,0.0639],[0.783,0.0625],[0.787,0.0612],[0.781,0.0598],[0.788,0.0584],
  [0.796,0.0660],[0.799,0.0647],[0.793,0.0634],[0.790,0.0621],[0.797,0.0607],[0.791,0.0593],[0.798,0.0580],
  [0.806,0.0655],[0.800,0.0642],[0.809,0.0629],[0.803,0.0616],[0.807,0.0603],[0.801,0.0589],[0.808,0.0575],
  [0.816,0.0650],[0.819,0.0637],[0.813,0.0624],[0.810,0.0611],[0.817,0.0598],[0.811,0.0585],
  [0.826,0.0645],[0.820,0.0632],[0.829,0.0620],[0.823,0.0607],[0.827,0.0594],[0.821,0.0581],
  [0.836,0.0640],[0.839,0.0628],[0.833,0.0615],[0.830,0.0602],[0.837,0.0589],[0.831,0.0576],
  [0.846,0.0635],[0.840,0.0623],[0.849,0.0611],[0.843,0.0598],[0.847,0.0586],[0.841,0.0573],
  [0.856,0.0630],[0.859,0.0618],[0.853,0.0606],[0.850,0.0594],[0.857,0.0581],
  [0.866,0.0625],[0.860,0.0613],[0.869,0.0601],[0.863,0.0589],[0.867,0.0577],
  [0.876,0.0620],[0.879,0.0608],[0.873,0.0597],[0.870,0.0585],[0.877,0.0573],
  [0.886,0.0615],[0.880,0.0604],[0.889,0.0592],[0.883,0.0581],[0.887,0.0569],
  [0.896,0.0610],[0.899,0.0599],[0.893,0.0588],[0.890,0.0576],[0.897,0.0564],
  [0.906,0.0605],[0.903,0.0583],[0.916,0.0600],[0.913,0.0578],[0.926,0.0595],[0.923,0.0573],[0.936,0.0590],[0.933,0.0569],
  [0.946,0.0586],[0.943,0.0565],[0.956,0.0582],[0.953,0.0561],[0.966,0.0578],[0.963,0.0557],[0.976,0.0574],[0.973,0.0553],
  [0.986,0.0570],[0.983,0.0549],[0.996,0.0555],
  [0.425,0.0838],[0.436,0.0829],[0.446,0.0846],[0.458,0.0832],[0.465,0.0826],[0.483,0.0821],[0.492,0.0830],[0.508,0.0816],[0.514,0.0810],[0.530,0.0808],
  [0.548,0.0803],[0.557,0.0797],[0.566,0.0793],[0.583,0.0788],[0.604,0.0782],[0.614,0.0778],[0.636,0.0772],[0.648,0.0766],[0.661,0.0757],[0.684,0.0748],
  [0.702,0.0735],[0.716,0.0727],[0.741,0.0712],[0.762,0.0700],[0.784,0.0690],[0.798,0.0682],
  [0.425,0.0670],[0.438,0.0662],[0.447,0.0654],[0.461,0.0648],[0.478,0.0652],[0.487,0.0640],[0.502,0.0637],[0.517,0.0645],[0.523,0.0630],[0.538,0.0638],
  [0.553,0.0626],[0.567,0.0621],[0.580,0.0627],[0.588,0.0615],[0.607,0.0618],[0.618,0.0610],[0.635,0.0613],[0.644,0.0604],[0.662,0.0600],[0.678,0.0594],
  [0.693,0.0589],[0.711,0.0591],[0.726,0.0582],[0.745,0.0578],[0.768,0.0572],[0.786,0.0569],[0.802,0.0563]
]

// Scintillator points in the most crowded part of the band
const scintillatorCore = [
  [0.400,0.0712],[0.405,0.0745],[0.400,0.0772],[0.405,0.0795],[0.400,0.0806],[0.410,0.0700],[0.415,0.0730],[0.410,0.0752],[0.415,0.0780],[0.410,0.0810],
  [0.420,0.0705],[0.425,0.0738],[0.420,0.0768],[0.425,0.0785],[0.420,0.0815],[0.430,0.0695],[0.435,0.0725],[0.430,0.0748],[0.435,0.0780],[0.430,0.0805],
  [0.440,0.0690],[0.445,0.0715],[0.440,0.0745],[0.445,0.0770],[0.440,0.0795],[0.450,0.0688],[0.455,0.0720],[0.450,0.0740],[0.455,0.0775],[0.450,0.0800],
  [0.460,0.0680],[0.465,0.0710],[0.460,0.0742],[0.465,0.0760],[0.460,0.0790],[0.470,0.0682],[0.475,0.0705],[0.470,0.0738],[0.475,0.0768],[0.470,0.0790],
  [0.480,0.0675],[0.485,0.0700],[0.480,0.0730],[0.485,0.0760],[0.480,0.0785],[0.490,0.0675],[0.495,0.0710],[0.490,0.0728],[0.495,0.0762],[0.490,0.0780],
  [0.500,0.0668],[0.505,0.0700],[0.500,0.0732],[0.505,0.0758],[0.500,0.0775],[0.510,0.0665],[0.515,0.0690],[0.510,0.0722],[0.515,0.0742],[0.510,0.0775],
  [0.520,0.0660],[0.525,0.0695],[0.520,0.0718],[0.525,0.0750],[0.520,0.0770],[0.530,0.0660],[0.535,0.0685],[0.530,0.0712],[0.535,0.0735],[0.530,0.0768],
  [0.540,0.0655],[0.545,0.0690],[0.540,0.0710],[0.545,0.0742],[0.540,0.0760],[0.550,0.0650],[0.555,0.0678],[0.550,0.0705],[0.555,0.0728],[0.550,0.0760],
  [0.560,0.0650],[0.565,0.0682],[0.560,0.0700],[0.565,0.0735],[0.560,0.0752],[0.570,0.0645],[0.575,0.0672],[0.570,0.0695],[0.575,0.0722],[0.570,0.0752],
  [0.580,0.0640],[0.585,0.0675],[0.580,0.0692],[0.585,0.0725],[0.580,0.0745],[0.590,0.0640],[0.595,0.0665],[0.590,0.0690],[0.595,0.0715],[0.590,0.0745],
  [0.600,0.0635],[0.605,0.0668],[0.600,0.0685],[0.605,0.0720],[0.600,0.0738],[0.610,0.0630],[0.615,0.0660],[0.610,0.0680],[0.615,0.0710],[0.610,0.0740],
  [0.620,0.0628],[0.625,0.0660],[0.620,0.0675],[0.625,0.0710],[0.620,0.0730],[0.630,0.0625],[0.635,0.0655],[0.630,0.0672],[0.635,0.0700],[0.630,0.0730],
  [0.640,0.0620],[0.645,0.0652],[0.640,0.0668],[0.645,0.0700],[0.640,0.0722],[0.650,0.0615],[0.655,0.0645],[0.650,0.0665],[0.655,0.0692],[0.650,0.0720],
  [0.660,0.0612],[0.665,0.0642],[0.660,0.0660],[0.665,0.0692],[0.660,0.0712],[0.670,0.0608],[0.675,0.0638],[0.670,0.0655],[0.675,0.0682],[0.670,0.0710],
  [0.680,0.0602],[0.685,0.0632],[0.680,0.0650],[0.685,0.0682],[0.680,0.0700],[0.690,0.0600],[0.695,0.0628],[0.690,0.0645],[0.695,0.0672],[0.690,0.0700],
  [0.700,0.0598],[0.705,0.0622],[0.700,0.0640],[0.705,0.0672],[0.700,0.0692],[0.710,0.0595],[0.715,0.0618],[0.710,0.0635],[0.715,0.0662],[0.710,0.0690],
  [0.720,0.0590],[0.725,0.0612],[0.720,0.0630],[0.725,0.0662],[0.720,0.0682],[0.730,0.0588],[0.735,0.0608],[0.730,0.0625],[0.735,0.0652],[0.730,0.0680],
  [0.740,0.0582],[0.745,0.0605],[0.740,0.0620],[0.745,0.0652],[0.740,0.0672],[0.750,0.0580],[0.755,0.0600],[0.750,0.0615],[0.755,0.0642],[0.750,0.0670],
  [0.760,0.0578],[0.765,0.0598],[0.760,0.0612],[0.765,0.0640],[0.760,0.0662],[0.770,0.0575],[0.775,0.0592],[0.770,0.0608],[0.775,0.0632],[0.770,0.0660],
  [0.780,0.0570],[0.785,0.0590],[0.780,0.0602],[0.785,0.0630],[0.780,0.0652],[0.790,0.0568],[0.795,0.0585],[0.790,0.0598],[0.795,0.0622],[0.790,0.0650],
  [0.800,0.0565],[0.805,0.0580],[0.800,0.0595],[0.805,0.0620],[0.800,0.0642]
]

// Margins and sizes
const margin = { top: 45, bottom: 69, left: 96, right: 32 }
const width = 796 - margin.left - margin.right
const height = 572 - margin.top - margin.bottom

const svg = d3
  .select("#chart")
  .append("svg")
  .attr("width", width + margin.left + margin.right)
  .attr("height", height + margin.top + margin.bottom)

const g = svg.append("g").attr("transform", `translate(${margin.left},${margin.top})`)

// Scales
const xscale = d3.scaleLinear().domain([0, 1.2]).range([0, width])
const yscale = d3.scaleLinear().domain([0, 0.15]).range([height, 0])
const fmt = d3.format("~g")

// Minor ticks (ROOT style, pointing inwards)
g.append("g")
  .attr("transform", `translate(0,${height})`)
  .call(d3.axisBottom(xscale).tickValues(d3.range(0, 1.2001, 0.05)).tickSize(-7.5).tickSizeOuter(0).tickFormat(""))
  .call((a) => a.select(".domain").remove())
g.append("g")
  .call(d3.axisLeft(yscale).tickValues(d3.range(0, 0.1451, 0.005)).tickSize(-9.5).tickSizeOuter(0).tickFormat(""))
  .call((a) => a.select(".domain").remove())

// Major ticks with labels
const xaxis = d3.axisBottom(xscale).tickValues(xTicks).tickSize(-15).tickSizeOuter(0).tickPadding(7).tickFormat(fmt)
g.append("g").attr("class", "x axis").attr("transform", `translate(0,${height})`).call(xaxis)
  .call((a) => a.select(".domain").remove())
  .selectAll("text").attr("dy", "0.72em")

const yaxis = d3.axisLeft(yscale).tickValues(yTicks).tickSize(-19).tickSizeOuter(0).tickPadding(6).tickFormat(fmt)
g.append("g").attr("class", "y axis").call(yaxis)
  .call((a) => a.select(".domain").remove())

g.selectAll(".tick line").attr("stroke", "#000").attr("stroke-width", 1)

// Frame
g.append("rect")
  .attr("width", width)
  .attr("height", height)
  .attr("fill", "none")
  .attr("stroke", "#000")
  .attr("stroke-width", 1.2)

// Markers
const msize = 4.8
const series = [
  cherenkov.concat(cherenkovFill, cherenkovCore),
  scintillator.concat(scintillatorFill, scintillatorCore)
]
series.forEach((pts, i) => {
  g.append("g")
    .selectAll("rect")
    .data(pts)
    .join("rect")
    .attr("x", (d) => xscale(d[0]) - msize / 2)
    .attr("y", (d) => yscale(d[1]) - msize / 2)
    .attr("width", msize)
    .attr("height", msize)
    .attr("fill", seriesColors[i])
})

// Legend
const legend = svg.append("g").attr("transform", "translate(426,70)")
seriesNames.forEach((name, i) => {
  legend.append("rect")
    .attr("x", -2)
    .attr("y", i * 28.5 - 2)
    .attr("width", 4)
    .attr("height", 4)
    .attr("fill", seriesColors[i])
  legend.append("text")
    .attr("x", 32)
    .attr("y", i * 28.5 + 6.5)
    .attr("font-family", "Liberation Serif, Times New Roman, serif")
    .attr("font-weight", "bold")
    .attr("font-style", "italic")
    .attr("font-size", 19.5)
    .text(name)
})

// Titles
svg.append("text")
  .attr("x", 763)
  .attr("y", 37)
  .attr("text-anchor", "end")
  .attr("font-family", "Liberation Sans, Arial, sans-serif")
  .attr("font-size", 29)
  .attr("letter-spacing", 1.3)
  .text(chartTitle)

svg.append("text")
  .attr("x", 757)
  .attr("y", 556)
  .attr("text-anchor", "end")
  .attr("font-family", "Liberation Sans, Arial, sans-serif")
  .attr("font-size", 23)
  .attr("letter-spacing", 1.2)
  .text(xTitle)

svg.append("text")
  .attr("transform", "translate(33,68) rotate(-90)")
  .attr("text-anchor", "end")
  .attr("font-family", "Liberation Sans, Arial, sans-serif")
  .attr("font-size", 23)
  .attr("letter-spacing", 1.2)
  .text(yTitle)
</script>
</body>
</html>
